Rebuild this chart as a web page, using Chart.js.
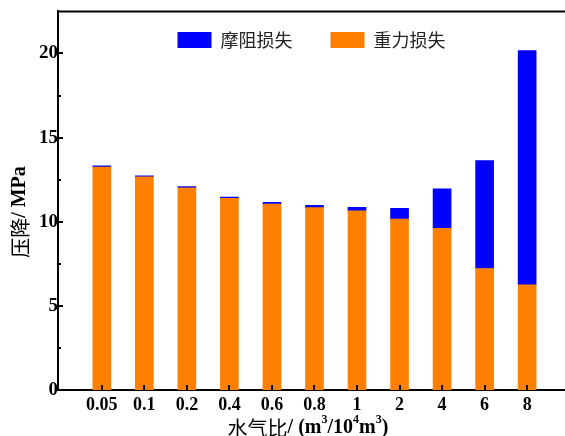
<!DOCTYPE html>
<html lang="zh">
<head>
  <meta charset="UTF-8">
  <title>压降 - 水气比</title>
  <script src="https://cdn.jsdelivr.net/npm/chart.js"></script>
  <style>
    body { margin: 0; background: #fff; }
    #wrap { width: 565px; height: 436px; }
  </style>
</head>
<body>
<div id="wrap"><canvas id="dropChart" width="565" height="436"></canvas></div>

<script>
// 水气比 (m3/10^4m3)
const categories = ["0.05", "0.1", "0.2", "0.4", "0.6", "0.8", "1", "2", "4", "6", "8"];
// 重力损失 [MPa]
const gravityLoss = [13.25, 12.67, 12.02, 11.39, 11.05, 10.84, 10.65, 10.16, 9.61, 7.22, 6.25];
// 摩阻损失 [MPa]
const frictionLoss = [0.07, 0.06, 0.07, 0.07, 0.10, 0.13, 0.20, 0.63, 2.35, 6.42, 13.92];
const yTicks = [0, 5, 10, 15, 20];
const yMinorTicks = [2.5, 7.5, 12.5, 17.5];

const serif = '"Liberation Serif", "Times New Roman", serif';
const cjk = '"Noto Sans CJK SC", sans-serif';

// legend sits inside the plot, so it should not take layout room
const legendInside = {
  id: "legendInside",
  beforeLayout(chart) {
    const lg = chart.legend;
    if (lg && !lg._flat) {
      const fit = lg.fit;
      lg.fit = function () { fit.call(this); this.height = 0; };
      lg._flat = true;
    }
  },
  afterLayout(chart) {
    const lg = chart.legend, ca = chart.chartArea;
    lg.left = ca.left; lg.right = ca.right; lg.width = ca.right - ca.left;
    lg.top = -7; lg.bottom = 70; lg.height = 77;
    lg.adjustHitBoxes();
  }
};

// inward ticks, top frame line and the axis titles (mixed fonts)
const frame = {
  id: "frame",
  afterDraw(chart) {
    const ctx = chart.ctx, ca = chart.chartArea;
    const xs = chart.scales.x, ys = chart.scales.y;
    ctx.save();
    ctx.strokeStyle = "#000";
    ctx.lineWidth = 2;
    ctx.beginPath();
    ctx.moveTo(ca.left - 1, ca.top); ctx.lineTo(565, ca.top);
    yTicks.forEach(v => { const y = Math.round(ys.getPixelForValue(v)); ctx.moveTo(ca.left, y); ctx.lineTo(ca.left + 5, y); });
    yMinorTicks.forEach(v => { const y = Math.round(ys.getPixelForValue(v)); ctx.moveTo(ca.left, y); ctx.lineTo(ca.left + 3, y); });
    categories.forEach((c, i) => { const x = Math.round(xs.getPixelForValue(i)); ctx.moveTo(x, ca.bottom); ctx.lineTo(x, ca.bottom - 5); });
    ctx.stroke();

    ctx.fillStyle = "#000";
    ctx.textBaseline = "middle";
    // y title
    ctx.save();
    ctx.translate(20, 212);
    ctx.rotate(-Math.PI / 2);
    drawParts(ctx, [
      { t: "压降", f: "20px " + cjk },
      { t: "/ MPa", f: "bold 20px " + serif }
    ], 0, 0);
    ctx.restore();
    // x title
    drawParts(ctx, [
      { t: "水气比", f: "20px " + cjk },
      { t: "/ (m", f: "bold 20px " + serif },
      { t: "3", f: "bold 12px " + serif, up: 8 },
      { t: "/10", f: "bold 20px " + serif },
      { t: "4", f: "bold 12px " + serif, up: 8 },
      { t: "m", f: "bold 20px " + serif },
      { t: "3", f: "bold 12px " + serif, up: 8 },
      { t: ")", f: "bold 20px " + serif }
    ], 308, 428);
    ctx.restore();
  }
};

function drawParts(ctx, parts, cx, cy) {
  let total = 0;
  parts.forEach(p => { ctx.font = p.f; p.w = ctx.measureText(p.t).width; total += p.w; });
  let x = cx - total / 2;
  ctx.textAlign = "left";
  parts.forEach(p => {
    ctx.font = p.f;
    ctx.fillText(p.t, x, cy - (p.up || 0));
    x += p.w;
  });
}

const ctx = document.getElementById("dropChart").getContext("2d");
new Chart(ctx, {
  type: "bar",
  data: {
    datasets: [
      { label: "重力损失", data: gravityLoss.map((v, i) => ({ x: i, y: v })), backgroundColor: "#FF8000", borderWidth: 0, barThickness: 18 },
      { label: "摩阻损失", data: frictionLoss.map((v, i) => ({ x: i, y: v })), backgroundColor: "#0000FF", borderWidth: 0, barThickness: 18 }
    ]
  },
  options: {
    responsive: false,
    animation: false,
    layout: { padding: { top: 10, right: 0, left: 0, bottom: 0 } },
    plugins: {
      tooltip: { enabled: false },
      legend: {
        position: "top",
        reverse: true,
        labels: {
          font: { family: "Noto Sans CJK SC", size: 18 },
          color: "#222",
          boxWidth: 34,
          boxHeight: 16,
          padding: 38
        }
      }
    },
    scales: {
      x: {
        type: "linear",
        stacked: true,
        offset: false,
        min: -1.03,
        max: 10.89,
        grid: { display: false, drawTicks: false, tickLength: 0 },
        border: { display: true, color: "#000", width: 2 },
        afterBuildTicks: s => { s.ticks = categories.map((c, i) => ({ value: i })); },
        afterFit: s => { s.height = 46; s.paddingLeft = 0; s.paddingRight = 0; },
        ticks: {
          autoSkip: false, maxRotation: 0, padding: 5, color: "#000",
          font: { family: "Liberation Serif", size: 18, weight: "bold" },
          callback: v => categories[v]
        }
      },
      y: {
        stacked: true,
        min: 0,
        max: 22.5,
        grid: { display: false, drawTicks: false, tickLength: 0 },
        border: { display: true, color: "#000", width: 2 },
        afterBuildTicks: s => { s.ticks = yTicks.map(v => ({ value: v })); },
        afterFit: s => { s.width = 58; },
        ticks: {
          padding: 0, color: "#000",
          font: { family: "Liberation Serif", size: 19, weight: "bold" }
        }
      }
    }
  },
  plugins: [legendInside, frame]
});
</script>
</body>
</html>
